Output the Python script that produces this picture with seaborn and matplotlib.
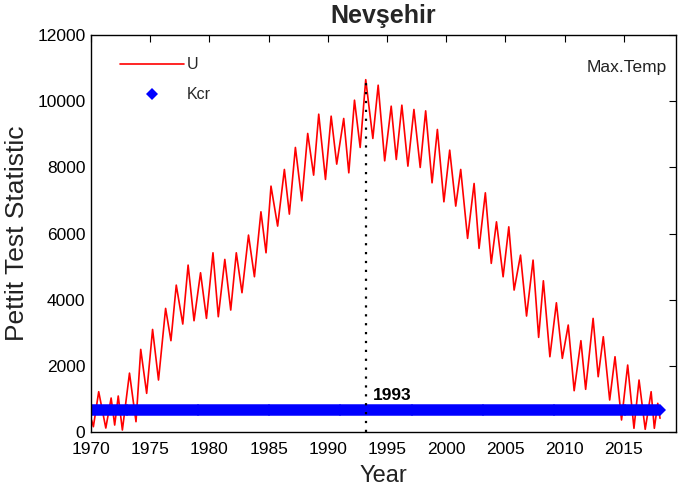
import numpy as np
import pandas as pd
import matplotlib
matplotlib.use("Agg")
import matplotlib.pyplot as plt
import seaborn as sns

# ---- data (annual peaks/troughs of Pettitt U) ----
u_year = [1970.05, 1970.2, 1970.65, 1971.25, 1971.7, 1972.0, 1972.3, 1972.65, 1973.25, 1973.8,
          1974.2, 1974.7, 1975.2, 1975.7, 1976.3, 1976.75, 1977.2, 1977.75, 1978.2, 1978.7,
          1979.25, 1979.75, 1980.3, 1980.75, 1981.3, 1981.8, 1982.27, 1982.75, 1983.3, 1983.8,
          1984.35, 1984.78, 1985.2, 1985.76, 1986.33, 1986.75, 1987.26, 1987.8, 1988.3, 1988.8,
          1989.23, 1989.8, 1990.28, 1990.75, 1991.34, 1991.77, 1992.25, 1992.73, 1993.2, 1993.8,
          1994.25, 1994.8, 1995.35, 1995.78, 1996.25, 1996.76, 1997.27, 1997.8, 1998.26, 1998.8,
          1999.25, 1999.8, 2000.29, 2000.8, 2001.22, 2001.8, 2002.35, 2002.77, 2003.3, 2003.8,
          2004.24, 2004.8, 2005.28, 2005.73, 2006.27, 2006.78, 2007.33, 2007.8, 2008.2, 2008.75,
          2009.3, 2009.8, 2010.3, 2010.8, 2011.37, 2011.77, 2012.4, 2012.83, 2013.26, 2013.8,
          2014.25, 2014.8, 2015.32, 2015.85, 2016.28, 2016.8, 2017.3, 2017.57, 2017.86, 2018.05]
u_value = [360, 160, 1218, 120, 1027, 210, 1088, 60, 1780, 311,
           2497, 1168, 3100, 1571, 3736, 2760, 4440, 3263, 5045, 3363,
           4813, 3434, 5417, 3484, 5217, 3686, 5417, 4210, 5952, 4693,
           6656, 5417, 7432, 6224, 7936, 6586, 8601, 6988, 9024, 7764,
           9607, 7634, 9547, 8097, 9477, 7834, 10030, 8601, 10650, 8873,
           10483, 8196, 9849, 8238, 9879, 8036, 9749, 7996, 9707, 7532,
           9145, 6958, 8520, 6828, 7936, 5852, 7512, 5550, 7230, 5097,
           6353, 4692, 6202, 4290, 5347, 3505, 5196, 2860, 4571, 2275,
           3906, 2225, 3233, 1248, 2760, 1290, 3434, 1671, 2880, 967,
           2275, 363, 2024, 112, 1571, 82, 1218, 112, 867, 414]

kcr_value = 660
kcr_start, kcr_end = 1970, 2018.05
change_year = 1993.18
change_label = "1993"
x_ticks = [1970, 1975, 1980, 1985, 1990, 1995, 2000, 2005, 2010, 2015]
y_ticks = [0, 2000, 4000, 6000, 8000, 10000, 12000]

df_u = pd.DataFrame({"Year": u_year, "U": u_value})
kcr_x = np.linspace(kcr_start, kcr_end, 578)
df_k = pd.DataFrame({"Year": kcr_x, "Kcr": np.full(kcr_x.size, kcr_value)})

sns.set_theme(style="white")
fam = ["Liberation Sans", "DejaVu Sans"]
plt.rcParams["font.family"] = fam

fig = plt.figure(figsize=(6.85, 4.87), dpi=100)
ax = fig.add_axes([91/685, 1-432/487, (676-91)/685, (432-35)/487])

sns.lineplot(data=df_u, x="Year", y="U", ax=ax, color="#ff0000", lw=1.2,
             estimator=None, sort=False, label="U")
sns.lineplot(data=df_k, x="Year", y="Kcr", ax=ax, color="#0000ff", lw=0,
             marker="D", markersize=5.8, markeredgewidth=0, estimator=None,
             sort=False, label="Kcr")

ax.plot([change_year, change_year], [0, max(u_value)], color="black",
        ls=(0, (1, 3)), lw=1.6)
ax.text(change_year + 0.6, kcr_value + 230, change_label, fontsize=12.5,
        fontweight="bold", ha="left", va="bottom", color="black")
ax.text(0.985, 0.918, "Max.Temp", transform=ax.transAxes, ha="right", va="center",
        fontsize=12.5, color="#222222")

ax.set_xlim(1970, 2019.4)
ax.set_ylim(0, 12000)
ax.set_xticks(x_ticks)
ax.set_yticks(y_ticks)
ax.tick_params(direction="in", length=5, width=0.8, top=True, right=True,
               labelsize=12.5, colors="black")
ax.tick_params(axis="x", pad=7)
ax.tick_params(axis="y", pad=4)
for s in ax.spines.values():
    s.set_color("black")
    s.set_linewidth(1.0)
    s.set_visible(True)

ax.set_xlabel("Year", fontsize=17, labelpad=6, color="#222222")
ax.set_ylabel("Pettit Test Statistic", fontsize=19, labelpad=6, color="#222222")
ax.set_title("Nevşehir", fontsize=18, fontweight="bold", pad=9)

leg = ax.legend(loc="upper left", bbox_to_anchor=(0.025, 0.98), frameon=False,
                fontsize=11.5, handlelength=4.0, handletextpad=0.15, labelspacing=0.95)

fig.savefig("out.png", dpi=100)
